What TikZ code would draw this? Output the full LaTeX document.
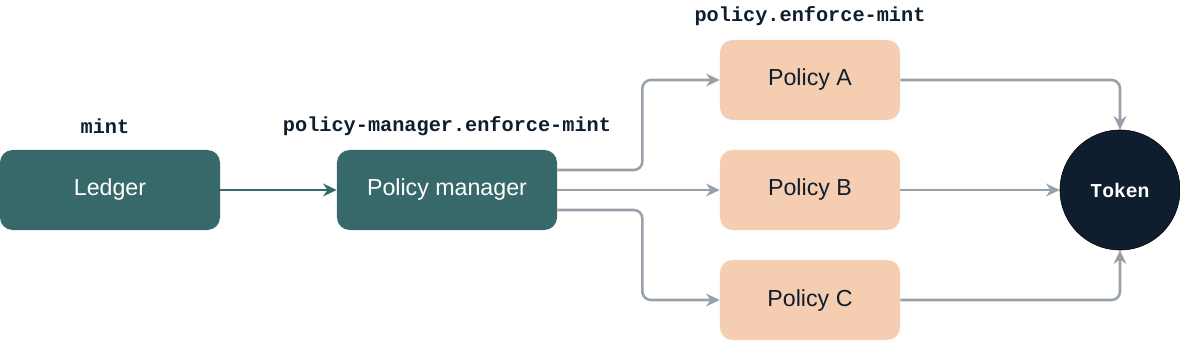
\documentclass[tikz,border=0pt]{standalone}
\usepackage{fontspec}
\setmainfont{Liberation Sans}
\setmonofont{Liberation Mono}
\usetikzlibrary{shapes.geometric, arrows.meta, positioning}

\definecolor{tealbox}{HTML}{38696A}
\definecolor{peach}{HTML}{F5CDB1}
\definecolor{navy}{HTML}{0E1E2E}
\definecolor{wire}{HTML}{98A1AA}

\begin{document}
\begin{tikzpicture}[
    x=0.025cm, y=-0.025cm,
    box/.style = {rectangle, rounded corners=9pt, minimum height=2cm,
                  text centered, font=\fontsize{16.5}{18}\selectfont},
    ledger/.style = {box, fill=tealbox, text=white, minimum width=5.5cm},
    policy/.style = {box, fill=peach, text=navy, minimum width=4.5cm},
    token/.style = {circle, fill=navy, draw=black, minimum size=3cm, text=white,
                    font=\ttfamily\bfseries\fontsize{14}{16}\selectfont},
    call/.style = {font=\ttfamily\bfseries\fontsize{14.4}{16}\selectfont, text=navy},
    arrow/.style = {line width=1.8pt,-{Stealth[length=3.4mm,width=3.2mm,inset=1.1mm]}},
    link/.style = {arrow, draw=wire, rounded corners=6pt}
]

    \useasboundingbox (0,0) rectangle (1180,341);

    % Callers
    \node[ledger] (ledger) at (110,190) {Ledger};
    \node[call] (mint) at (105,126) {mint};

    \node[ledger] (pm) at (447,190) {Policy manager};
    \node[call] (pmcall) at (447,126) {policy-manager.enforce-mint};

    % Policies
    \node[policy] (pa) at (810,80) {Policy A};
    \node[policy] (pb) at (810,190) {Policy B};
    \node[policy] (pc) at (810,300) {Policy C};
    \node[call] (pcall) at (810,16) {policy.enforce-mint};

    % Token
    \node[token] (token) at (1120,190) {Token};

    % Main flow arrows
    \draw[arrow, tealbox] (ledger) -- (pm);
    \draw[link] ([yshift=0.5cm]pm.east) -- ++(2.125cm,0) |- (pa.west);
    \draw[link] (pm) -- (pb);
    \draw[link] ([yshift=-0.5cm]pm.east) -- ++(2.125cm,0) |- (pc.west);

    % Into token
    \draw[link] (pa.east) -| (token.north);
    \draw[link] (pb) -- (token);
    \draw[link] (pc.east) -| (token.south);

\end{tikzpicture}
\end{document}
